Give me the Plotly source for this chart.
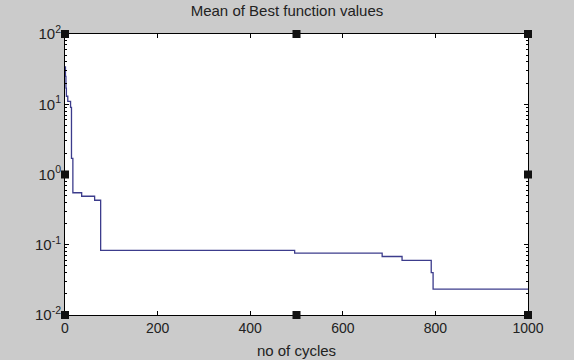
import plotly.graph_objects as go

cycles = [0, 1, 2, 3, 6, 12, 14, 17, 36, 64, 77, 496, 685, 728, 791, 795, 1000]
best_values = [34, 25, 17, 13, 11, 9, 1.7, 0.55, 0.49, 0.43, 0.083, 0.076, 0.068, 0.060, 0.040, 0.0234, 0.0234]

x_ticks = [0, 200, 400, 600, 800, 1000]
y_ticks = [0.01, 0.1, 1, 10, 100]
y_labels = ["10<sup>-2</sup>", "10<sup>-1</sup>", "10<sup>0</sup>", "10<sup>1</sup>", "10<sup>2</sup>"]
y_minor = [m * d for d in [0.01, 0.1, 1, 10] for m in range(2, 10)]

fig = go.Figure()
fig.add_trace(go.Scatter(x=cycles, y=best_values, mode="lines", line_shape="hv",
                         line=dict(color="#3c3c8c", width=1.3), showlegend=False))

bg = "#cbcbcb"
fig.update_layout(
    width=574, height=360,
    margin=dict(l=65, r=46, t=34, b=45, autoexpand=False),
    paper_bgcolor=bg, plot_bgcolor="white",
    font=dict(family="Liberation Sans, Arial, sans-serif", size=14, color="#222"),
    title=dict(text="Mean of Best function values", x=0.5, xanchor="center",
               y=1 - 11 / 360, yanchor="middle", font=dict(size=15)),
)
fig.update_xaxes(
    range=[0, 1000], tickvals=x_ticks, ticks="inside", ticklen=4, tickcolor="black",
    showline=True, linecolor="black", linewidth=1, mirror="allticks", showgrid=False,
    zeroline=False, tickfont=dict(size=14), automargin=False,
    title=dict(text="no of cycles", standoff=10, font=dict(size=15)),
)
fig.update_yaxes(
    type="log", range=[-2, 2], tickvals=y_ticks, ticktext=y_labels, ticks="inside",
    ticklen=4, tickcolor="black", showline=True, linecolor="black", linewidth=1,
    mirror="allticks", showgrid=False, zeroline=False, tickfont=dict(size=15), automargin=False,
    minor=dict(tickvals=y_minor, ticks="inside", ticklen=2, tickcolor="black", showgrid=False),
)

# selection handles (MATLAB-style squares)
for (px, py) in [(0, 1), (0.5, 1), (1, 1), (0, 0.5), (1, 0.5), (0, 0), (0.5, 0), (1, 0)]:
    fig.add_shape(type="rect", xref="paper", yref="paper", xsizemode="pixel", ysizemode="pixel",
                  xanchor=px, yanchor=py, x0=-4, x1=4, y0=-4, y1=4,
                  fillcolor="#111", line=dict(color="#111", width=0))

fig.write_html("out.html")
